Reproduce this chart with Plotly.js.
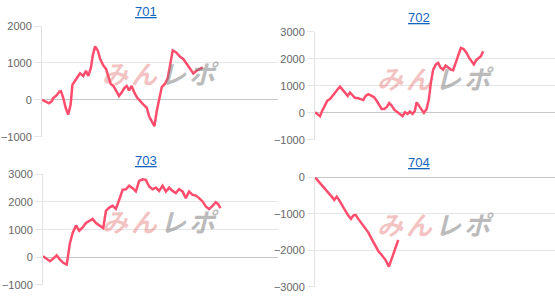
<!DOCTYPE html>
<html><head><meta charset="utf-8">
<script src="https://cdn.plot.ly/plotly-3.0.1.min.js"></script>
<style>html,body{margin:0;padding:0;background:#fff;}#c{width:555px;height:301px;}</style>
</head><body><div id="c"></div>
<script>
// Machine numbers (panel titles)
const titles = ["701", "702", "703", "704"];
// Games played (x) and cumulative coin difference (y)
const g701 = [0,160,240,330,380,500,590,640,720,800,890,970,1030,1120,1210,1290,1400,1490,1570,1660,1720,1800,1890,1970,2080,2170,2250,2330,2420,2510,2610,2700,2790,2870,2950,3040,3130,3230,3320,3430,3550,3630,3720,3810,3890,3980,4060,4170,4260,4340,4430,4540,4680,4790,4910,5020,5130,5240,5360,5450];
const v701 = [0,-70,-90,-30,50,130,230,240,60,-210,-390,-120,410,520,630,720,650,790,650,880,1200,1450,1340,1110,930,840,630,430,380,245,110,200,320,380,260,380,200,60,-30,-120,-210,-440,-570,-710,-300,60,350,440,590,930,1340,1290,1170,1110,970,840,720,790,840,880];
const g702 = [0,90,167,243,333,410,500,576,666,756,833,909,999,1089,1166,1255,1332,1422,1532,1608,1688,1775,1888,1975,2055,2141,2221,2308,2388,2474,2554,2641,2721,2807,2920,2997,3087,3164,3253,3330,3387,3463,3553,3630,3720,3796,3863,3939,4029,4106,4186,4272,4353,4439,4529,4605,4685,4772,4862,4952,5052,5138,5218,5295,5371,5461,5528,5604];
const v702 = [25,-70,-120,85,270,450,510,630,755,875,970,875,755,630,755,630,550,550,510,475,630,690,630,570,450,270,145,145,210,365,270,120,50,-35,-120,25,-35,50,-35,85,390,270,145,0,145,510,1120,1600,1790,1850,1670,1600,1750,1670,1600,1580,1850,2090,2400,2360,2215,2030,1910,1790,1945,2030,2090,2275];
const g703 = [0,126,238,350,466,578,690,806,860,918,1010,1122,1234,1350,1462,1574,1690,1802,1938,2050,2142,2254,2370,2482,2594,2710,2822,2934,3050,3162,3274,3390,3502,3614,3730,3842,3954,4070,4182,4294,4410,4522,4634,4750,4862,4974,5090,5202,5314,5430,5542,5654,5770,5882,5960,6042];
const v703 = [35,-45,-140,-45,70,-85,-200,-265,95,520,880,1150,960,1080,1240,1320,1390,1240,1150,1060,1680,1800,1860,1750,2080,2440,2460,2590,2500,2380,2760,2820,2800,2560,2460,2520,2400,2590,2380,2520,2400,2320,2460,2380,2140,2380,2260,2230,2140,2020,1840,1740,1860,1990,1920,1780];
const g704 = [0,110,225,333,443,556,643,723,799,889,999,1109,1199,1275,1355,1442,1555,1665,1775,1888,1998,2108,2221,2354,2464,2554,2664,2774];
const v704 = [0,-100,-210,-320,-420,-530,-620,-530,-620,-760,-900,-1050,-1140,-1050,-1030,-1140,-1260,-1400,-1510,-1690,-1860,-2020,-2130,-2270,-2450,-2220,-1990,-1720];
const yRanges = [[-1000,2000],[-1000,3000],[-1000,3000],[-3000,0]];

const series = [[g701,v701],[g702,v702],[g703,v703],[g704,v704]];
const lineColor = '#ff4d6d';
const traces = series.map((s,i)=>({
  x: s[0], y: s[1], type:'scatter', mode:'lines',
  xaxis: i===0?'x':'x'+(i+1), yaxis: i===0?'y':'y'+(i+1),
  line:{color:lineColor, width:2.5}, hoverinfo:'skip'
}));

const xDom = [[0.0757,0.5009],[0.5676,1.0],[0.0775,0.5009],[0.5676,1.0]];
const yDom = [[0.5449,0.9136],[0.5349,0.8947],[0.0532,0.4209],[0.0475,0.411]];
const layout = {
  width:555, height:301, margin:{l:0,r:0,t:0,b:0},
  paper_bgcolor:'#fff', plot_bgcolor:'#fff', showlegend:false,
  font:{family:'"Liberation Sans", Arial, sans-serif', size:11, color:'#666'},
  annotations:[], shapes:[]
};
const titlePos = [[0.263,0.961],[0.755,0.942],[0.263,0.468],[0.755,0.460]];
for (let i=0;i<4;i++){
  const sx = i===0?'':(i+1);
  layout['xaxis'+sx] = {domain:xDom[i], anchor:'y'+sx, range:[0,8000], showgrid:false, zeroline:false,
    showticklabels:false, ticks:'', showline:false, fixedrange:true};
  layout['yaxis'+sx] = {domain:yDom[i], anchor:'x'+sx, range:yRanges[i], dtick:1000, tick0:0,
    showgrid:true, gridcolor:'#e6e6e6', gridwidth:1, zeroline:true, zerolinecolor:'#c8c8c8', zerolinewidth:1,
    showline:true, linecolor:'#e2e2e2', linewidth:1, ticks:'outside', ticklen:7, tickcolor:'#e6e6e6',
    tickfont:{size:11, color:'#666'}, fixedrange:true};
  layout.annotations.push({
    xref:'paper', yref:'paper', x:titlePos[i][0], y:titlePos[i][1], xanchor:'center', yanchor:'middle',
    text:'<span style="text-decoration:underline">'+titles[i]+'</span>', showarrow:false,
    font:{size:13, color:'#1565c0', family:'"Liberation Sans", Arial, sans-serif'}
  });
  layout.annotations.push({
    xref:'x'+sx+' domain', yref:'y'+sx+' domain', x:0.5, y:0.58, xanchor:'center', yanchor:'middle',
    text:'<i><b><span style="color:rgba(225,95,95,0.38);letter-spacing:3px">みん</span><span style="color:rgba(120,120,120,0.5);letter-spacing:3px">レポ</span></b></i>',
    showarrow:false, font:{size:26, family:'"Noto Sans CJK JP", sans-serif'}
  });
}
Plotly.newPlot('c', traces, layout, {staticPlot:true, displayModeBar:false});
</script></body></html>
